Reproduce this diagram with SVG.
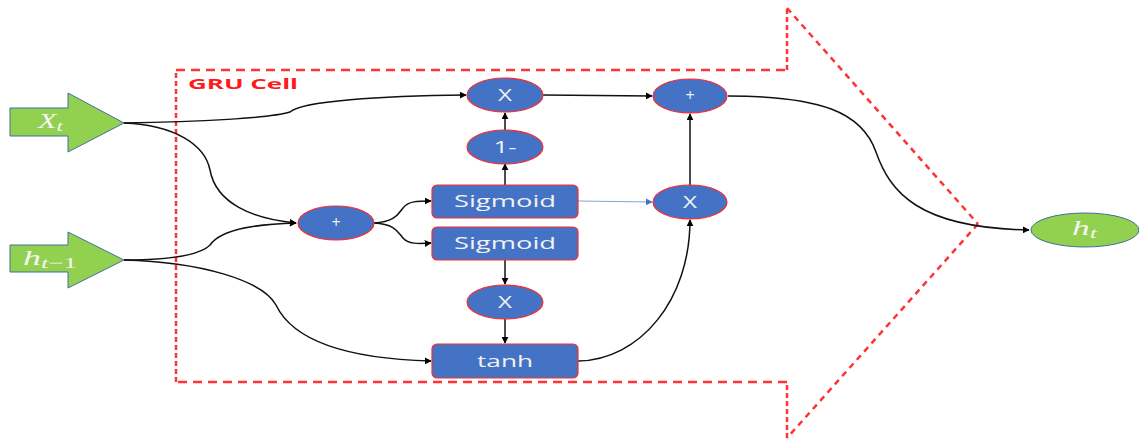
<svg xmlns="http://www.w3.org/2000/svg" width="1139" height="443" viewBox="0 0 1139 443">
  <defs>
    <marker id="arr" viewBox="0 0 10 10" refX="9" refY="5" markerWidth="7" markerHeight="7" markerUnits="userSpaceOnUse" orient="auto">
      <path d="M0,0 L10,5 L0,10 z" fill="#000"/>
    </marker>
    <marker id="arrBlue" viewBox="0 0 10 10" refX="9" refY="5" markerWidth="7" markerHeight="7" markerUnits="userSpaceOnUse" orient="auto">
      <path d="M0,0 L10,5 L0,10 z" fill="#4472C4"/>
    </marker>
  </defs>
  <style>
    .op { fill: #4472C4; stroke: #FF2A2A; stroke-width: 1.2; }
    .io { fill: #92D050; stroke: #41719C; stroke-width: 1; }
    .lbl { font-family: "Open Sans", "Liberation Sans", sans-serif; fill: #F2F2F2; font-size: 16px; text-anchor: middle; }
    .math { font-family: "Liberation Serif", serif; font-style: italic; fill: #F5F5F5; font-size: 20px; }
    .wire { fill: none; stroke: #111; stroke-width: 1.5; marker-end: url(#arr); }
    .frame { fill: none; stroke: #FF3333; stroke-width: 2.5; }
  </style>
  <rect width="1139" height="443" fill="#fff"/>

  <!-- dashed cell outline shaped as a big arrow -->
  <g id="cell-frame">
    <line class="frame" x1="176" y1="70" x2="787" y2="70" stroke-dasharray="9 6"/>
    <line class="frame" x1="787" y1="70" x2="787" y2="8" stroke-dasharray="5 3"/>
    <line class="frame" x1="787" y1="8" x2="978" y2="224" stroke-dasharray="6 5"/>
    <line class="frame" x1="978" y1="224" x2="787" y2="438" stroke-dasharray="6 5"/>
    <line class="frame" x1="787" y1="438" x2="787" y2="382" stroke-dasharray="5 3"/>
    <line class="frame" x1="787" y1="382" x2="176" y2="382" stroke-dasharray="9 6"/>
    <line class="frame" x1="176" y1="382" x2="176" y2="70" stroke-dasharray="5 3"/>
    <text x="188" y="89" font-family="'Open Sans', 'Liberation Sans', sans-serif" font-weight="bold" font-size="15" fill="#FF1A1A" textLength="110" lengthAdjust="spacingAndGlyphs">GRU Cell</text>
  </g>

  <!-- connectors -->
  <g id="connectors">
    <path class="wire" d="M124,123 C200,122 270,118 290,112 C302,101 380,96 466,95"/>
    <path class="wire" d="M124,123 C175,125 205,145 210,170 C216,203 252,219 296,223"/>
    <path class="wire" d="M124,260 C170,260 200,255 210,245 C222,228 260,224 296,223"/>
    <path class="wire" d="M124,260 C200,262 262,280 276,305 C287,328 320,358 431,361"/>
    <path class="wire" d="M374,223 C395,222 398,214 403,208 C408,201 418,201 431,201"/>
    <path class="wire" d="M374,223 C395,224 398,232 403,238 C408,244 418,244 431,243"/>
    <path class="wire" d="M505,185 L505,164"/>
    <path class="wire" d="M505,130 L505,113"/>
    <path class="wire" d="M543,95 L652,96"/>
    <path d="M578,201 L652,202" fill="none" stroke="#7FA3DC" stroke-width="1" marker-end="url(#arrBlue)"/>
    <path class="wire" d="M505,260 L505,284"/>
    <path class="wire" d="M505,319 L505,343"/>
    <path class="wire" d="M578,361 C640,360 690,300 690,220"/>
    <path class="wire" d="M690,186 L690,114"/>
    <path class="wire" d="M728,96 C820,96 862,112 876,152 C890,192 918,228 1029,230"/>
  </g>

  <!-- inputs -->
  <g id="input-xt">
    <polygon class="io" points="10,108 68,108 68,93 124,123 68,152 68,136 10,136"/>
    <text class="math" x="38" y="128" textLength="25" lengthAdjust="spacingAndGlyphs">X<tspan font-size="15" dy="3">t</tspan></text>
  </g>
  <g id="input-ht1">
    <polygon class="io" points="10,245 68,245 68,232 124,260 68,288 68,272 10,272"/>
    <text class="math" x="23" y="265" textLength="54" lengthAdjust="spacingAndGlyphs">h<tspan font-size="15" dy="3">t</tspan><tspan font-size="15" font-style="normal">−1</tspan></text>
  </g>

  <!-- operations -->
  <g id="mul-top">
    <ellipse class="op" cx="505" cy="95" rx="38" ry="17"/>
    <text class="lbl" x="505" y="101" textLength="14" lengthAdjust="spacingAndGlyphs">X</text>
  </g>
  <g id="one-minus">
    <ellipse class="op" cx="505" cy="147" rx="38" ry="17"/>
    <text class="lbl" x="505" y="153" textLength="23" lengthAdjust="spacingAndGlyphs">1-</text>
  </g>
  <g id="add-out">
    <ellipse class="op" cx="690" cy="96" rx="37" ry="17"/>
    <text class="lbl" x="690" y="101" font-size="14">+</text>
  </g>
  <g id="add-in">
    <ellipse class="op" cx="336" cy="223" rx="38" ry="17"/>
    <text class="lbl" x="336" y="228" font-size="14">+</text>
  </g>
  <g id="sigmoid-update">
    <rect class="op" x="432" y="185" width="146" height="33" rx="5"/>
    <text class="lbl" x="505" y="207" textLength="102" lengthAdjust="spacingAndGlyphs">Sigmoid</text>
  </g>
  <g id="sigmoid-reset">
    <rect class="op" x="432" y="227" width="146" height="33" rx="5"/>
    <text class="lbl" x="505" y="249" textLength="102" lengthAdjust="spacingAndGlyphs">Sigmoid</text>
  </g>
  <g id="mul-mid">
    <ellipse class="op" cx="690" cy="202" rx="37" ry="17"/>
    <text class="lbl" x="690" y="208" textLength="14" lengthAdjust="spacingAndGlyphs">X</text>
  </g>
  <g id="mul-reset">
    <ellipse class="op" cx="505" cy="302" rx="38" ry="17"/>
    <text class="lbl" x="505" y="308" textLength="14" lengthAdjust="spacingAndGlyphs">X</text>
  </g>
  <g id="tanh">
    <rect class="op" x="432" y="344" width="146" height="34" rx="5"/>
    <text class="lbl" x="505" y="367" textLength="56" lengthAdjust="spacingAndGlyphs">tanh</text>
  </g>

  <!-- output -->
  <g id="output-ht">
    <ellipse class="io" cx="1085" cy="230" rx="54" ry="17"/>
    <text class="math" x="1072" y="235" textLength="25" lengthAdjust="spacingAndGlyphs">h<tspan font-size="15" dy="3">t</tspan></text>
  </g>
</svg>
